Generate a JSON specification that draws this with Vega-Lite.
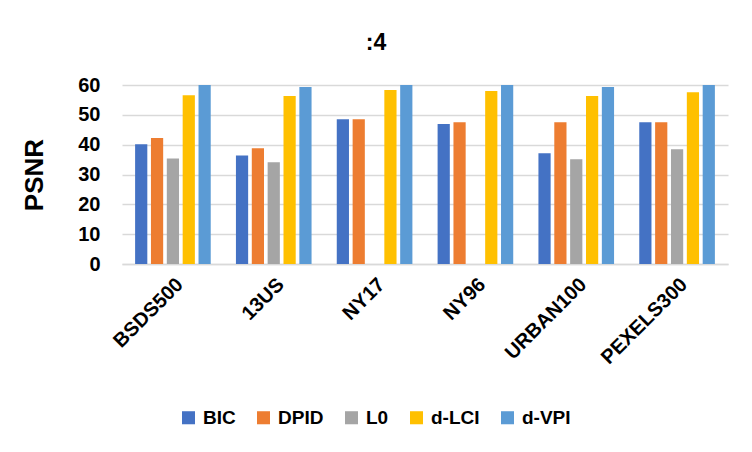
{
  "$schema": "https://vega.github.io/schema/vega-lite/v6.json",
  "width": 606,
  "height": 179,
  "autosize": {"type": "none"},
  "padding": {"left": 122, "top": 85, "right": 24, "bottom": 188},
  "background": "white",
  "title": {"text": ":4", "fontSize": 23, "fontWeight": "bold", "font": "Liberation Sans", "color": "#000000", "anchor": "middle", "dx": -49, "offset": 20},
  "data": {"values": [
    {"dataset": "BSDS500", "method": "BIC", "psnr": 40.1},
    {"dataset": "BSDS500", "method": "DPID", "psnr": 42.2},
    {"dataset": "BSDS500", "method": "L0", "psnr": 35.4},
    {"dataset": "BSDS500", "method": "d-LCI", "psnr": 56.6},
    {"dataset": "BSDS500", "method": "d-VPI", "psnr": 60.0},
    {"dataset": "13US", "method": "BIC", "psnr": 36.4},
    {"dataset": "13US", "method": "DPID", "psnr": 38.8},
    {"dataset": "13US", "method": "L0", "psnr": 34.1},
    {"dataset": "13US", "method": "d-LCI", "psnr": 56.3},
    {"dataset": "13US", "method": "d-VPI", "psnr": 59.3},
    {"dataset": "NY17", "method": "BIC", "psnr": 48.5},
    {"dataset": "NY17", "method": "DPID", "psnr": 48.5},
    {"dataset": "NY17", "method": "d-LCI", "psnr": 58.3},
    {"dataset": "NY17", "method": "d-VPI", "psnr": 60.0},
    {"dataset": "NY96", "method": "BIC", "psnr": 46.9},
    {"dataset": "NY96", "method": "DPID", "psnr": 47.5},
    {"dataset": "NY96", "method": "d-LCI", "psnr": 58.0},
    {"dataset": "NY96", "method": "d-VPI", "psnr": 60.0},
    {"dataset": "URBAN100", "method": "BIC", "psnr": 37.1},
    {"dataset": "URBAN100", "method": "DPID", "psnr": 47.5},
    {"dataset": "URBAN100", "method": "L0", "psnr": 35.1},
    {"dataset": "URBAN100", "method": "d-LCI", "psnr": 56.3},
    {"dataset": "URBAN100", "method": "d-VPI", "psnr": 59.3},
    {"dataset": "PEXELS300", "method": "BIC", "psnr": 47.5},
    {"dataset": "PEXELS300", "method": "DPID", "psnr": 47.5},
    {"dataset": "PEXELS300", "method": "L0", "psnr": 38.5},
    {"dataset": "PEXELS300", "method": "d-LCI", "psnr": 57.6},
    {"dataset": "PEXELS300", "method": "d-VPI", "psnr": 60.0}
  ]},
  "mark": {"type": "bar"},
  "encoding": {
    "x": {
      "field": "dataset", "type": "nominal",
      "sort": ["BSDS500", "13US", "NY17", "NY96", "URBAN100", "PEXELS300"],
      "scale": {"paddingInner": 0.25, "paddingOuter": 0.13},
      "axis": {"title": null, "labelAngle": -45, "labelFontSize": 20, "labelFontWeight": "bold", "labelFont": "Liberation Sans", "labelColor": "#000000", "ticks": false, "domainColor": "#d9d9d9", "domainWidth": 1.5, "labelPadding": 10, "labelDx": -6}
    },
    "xOffset": {
      "field": "method", "type": "nominal",
      "sort": ["BIC", "DPID", "L0", "d-LCI", "d-VPI"],
      "scale": {"domain": ["BIC", "DPID", "L0", "d-LCI", "d-VPI"], "paddingInner": 0.23}
    },
    "y": {
      "field": "psnr", "type": "quantitative",
      "scale": {"domain": [0, 60], "nice": false},
      "axis": {"title": "PSNR", "titleFontSize": 26, "titleFontWeight": "bold", "titleFont": "Liberation Sans", "titleColor": "#000000", "titlePadding": 30, "values": [0, 10, 20, 30, 40, 50, 60], "labelFontSize": 20, "labelFontWeight": "bold", "labelFont": "Liberation Sans", "labelColor": "#000000", "labelPadding": 22, "ticks": false, "domain": false, "gridColor": "#d9d9d9", "gridWidth": 1.5}
    },
    "color": {
      "field": "method", "type": "nominal",
      "scale": {"domain": ["BIC", "DPID", "L0", "d-LCI", "d-VPI"], "range": ["#4472C4", "#ED7D31", "#A5A5A5", "#FFC000", "#5B9BD5"]},
      "legend": {"title": null, "orient": "none", "direction": "horizontal", "legendX": 57, "legendY": 323, "symbolType": "square", "symbolSize": 170, "symbolStrokeWidth": 0, "labelFontSize": 19, "labelFontWeight": "bold", "labelFont": "Liberation Sans", "labelColor": "#000000", "columnPadding": 18, "labelOffset": 5}
    }
  },
  "config": {"view": {"stroke": null}}
}
